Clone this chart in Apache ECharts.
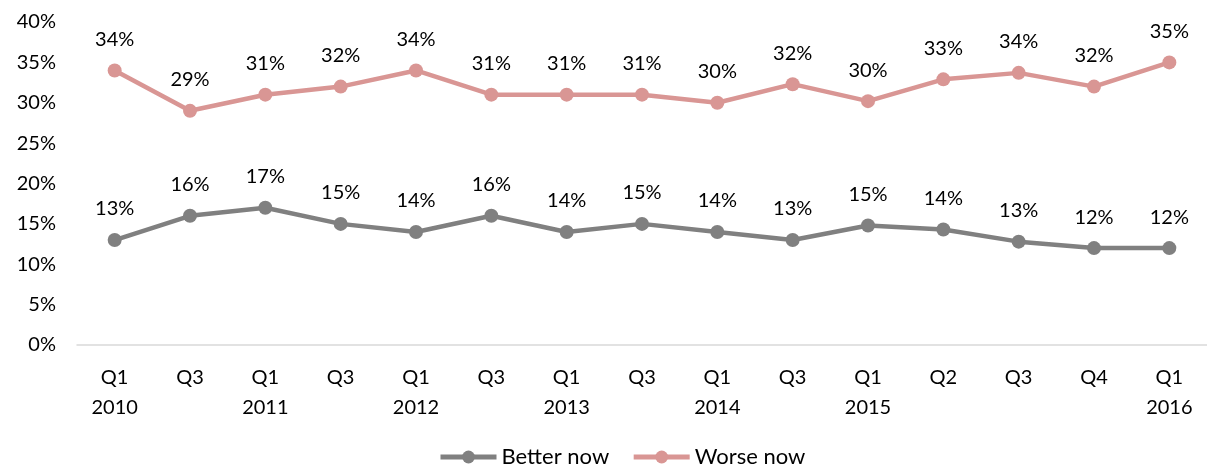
<!DOCTYPE html>
<html><head><meta charset="utf-8">
<script src="https://cdn.jsdelivr.net/npm/echarts@6/dist/echarts.min.js"></script>
<style>html,body{margin:0;padding:0;background:#fff}#c{width:1207px;height:466px}</style>
</head><body><div id="c"></div>
<script>
const categories = ['Q1\n2010','Q3','Q1\n2011','Q3','Q1\n2012','Q3','Q1\n2013','Q3','Q1\n2014','Q3','Q1\n2015','Q2','Q3','Q4','Q1\n2016'];
const betterNow = [13,16,17,15,14,16,14,15,14,13,14.8,14.3,12.8,12,12];
const worseNow = [34,29,31,32,34,31,31,31,30,32.3,30.2,32.9,33.7,32,35];
const yTicks = {min:0, max:40, interval:5};
const font = 'Lato, Open Sans, sans-serif';
const chart = echarts.init(document.getElementById('c'), null, {renderer:'canvas'});
function lbl(){return {show:true, position:'top', distance:14, color:'#000', fontSize:20, fontFamily:font, formatter:p=>Math.round(p.value)+'%'};}
chart.setOption({
  animation:false,
  grid:{left:77, right:-9, top:22, bottom:121, containLabel:false},
  legend:{bottom:-7, left:433, itemWidth:56, itemHeight:16, itemGap:22,
    lineStyle:{width:5}, textStyle:{fontSize:22, fontFamily:font, color:'#000'},
    data:['Better now','Worse now']},
  xAxis:{type:'category', data:categories, boundaryGap:true,
    axisLine:{lineStyle:{color:'#d9d9d9', width:1.5}}, axisTick:{show:false},
    axisLabel:{color:'#000', fontSize:20, fontFamily:font, lineHeight:30, margin:18, interval:0}},
  yAxis:{type:'value', min:yTicks.min, max:yTicks.max, interval:yTicks.interval,
    splitLine:{show:false}, axisLine:{show:false}, axisTick:{show:false},
    axisLabel:{color:'#000', fontSize:20, fontFamily:font, margin:21, formatter:v=>v+'%'}},
  series:[
    {name:'Better now', type:'line', data:betterNow, symbol:'circle', symbolSize:14,
      lineStyle:{color:'#808080', width:4.5}, itemStyle:{color:'#808080'}, label:lbl()},
    {name:'Worse now', type:'line', data:worseNow, symbol:'circle', symbolSize:14,
      lineStyle:{color:'#d99694', width:4.5}, itemStyle:{color:'#d99694'}, label:lbl()}
  ]
});
</script></body></html>
